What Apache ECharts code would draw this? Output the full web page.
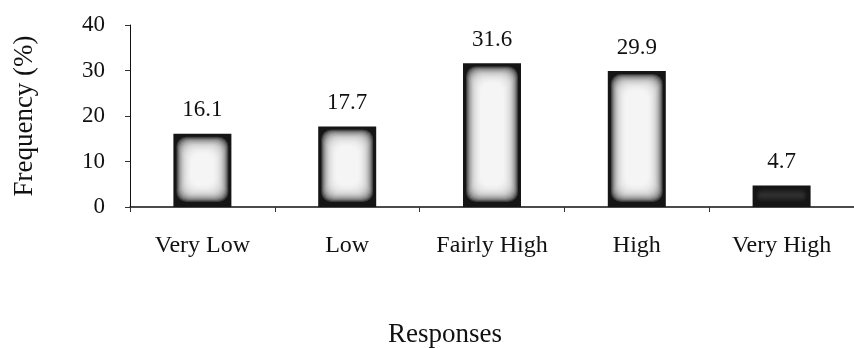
<!DOCTYPE html>
<html>
<head>
<meta charset="utf-8">
<script src="https://cdn.jsdelivr.net/npm/echarts@6/dist/echarts.min.js"></script>
<style>
  html, body { margin: 0; padding: 0; background: #fff; }
  #chart { width: 854px; height: 348px; }
</style>
</head>
<body>
<div id="chart"></div>
<script>
// Response categories and their share of respondents (%)
const categories = ['Very Low', 'Low', 'Fairly High', 'High', 'Very High'];
const frequency = [16.1, 17.7, 31.6, 29.9, 4.7];
const yTicks = [0, 10, 20, 30, 40];

const FONT = '"Liberation Serif", "Times New Roman", serif';
const chart = echarts.init(document.getElementById('chart'));

// Soft light core drawn on top of each dark bar: stacked translucent
// rounded rects that grow lighter towards the middle.
function renderGlow(params, api) {
  const idx = api.value(0);
  const v = api.value(1);
  const top = api.coord([idx, v]);
  const base = api.coord([idx, 0]);
  const w = 58;
  const h = base[1] - top[1];
  const x0 = top[0] - w / 2;
  const y0 = top[1];
  const children = [];
  const layers = 18;
  const small = h < 40;
  for (let k = 0; k < layers; k++) {
    const ix = 3 + k * 0.85;
    const iyTop = 3 + k * 0.95;
    const iyBot = 5 + k * 0.95;
    const ih = h - iyTop - iyBot;
    if (ih <= 0) break;
    children.push({
      type: 'rect',
      shape: { x: x0 + ix, y: y0 + iyTop, width: w - 2 * ix, height: ih, r: Math.min(10, ih / 2) },
      style: {
        fill: small ? '#777' : '#fff',
        opacity: small ? 0.05 : 0.17
      },
      silent: true
    });
  }
  return { type: 'group', children: children };
}

chart.setOption({
  animation: false,
  backgroundColor: '#fff',
  grid: { left: 130, top: 25, width: 730, height: 182 },
  xAxis: {
    type: 'category',
    data: categories,
    axisLine: { lineStyle: { color: '#111', width: 1.5 } },
    axisTick: { show: true, length: 5, lineStyle: { color: '#333' } },
    axisLabel: { color: '#111', fontFamily: FONT, fontSize: 24, margin: 27, interval: 0 }
  },
  yAxis: {
    type: 'value',
    min: 0,
    max: 40,
    interval: 10,
    name: 'Frequency (%)',
    nameLocation: 'middle',
    nameGap: 92,
    nameTextStyle: { color: '#111', fontFamily: FONT, fontSize: 27 },
    splitLine: { show: false },
    axisLine: { show: true, lineStyle: { color: '#111', width: 1 } },
    axisTick: { show: true, length: 5, lineStyle: { color: '#333' } },
    axisLabel: {
      color: '#111', fontFamily: FONT, fontSize: 23, margin: 25,
      formatter: (val) => (yTicks.includes(val) ? String(val) : '')
    }
  },
  graphic: [{
    type: 'text',
    x: 445,
    y: 335,
    style: {
      text: 'Responses',
      fill: '#111',
      font: '27px ' + FONT,
      textAlign: 'center',
      textVerticalAlign: 'middle'
    }
  }],
  series: [
    {
      type: 'bar',
      data: frequency,
      barWidth: 58,
      itemStyle: { color: '#151515' },
      label: {
        show: true,
        position: 'top',
        distance: 12,
        color: '#111',
        fontFamily: FONT,
        fontSize: 23
      },
      z: 2
    },
    {
      type: 'custom',
      data: frequency.map((v, i) => [i, v]),
      renderItem: renderGlow,
      z: 3
    }
  ]
});
</script>
</body>
</html>
